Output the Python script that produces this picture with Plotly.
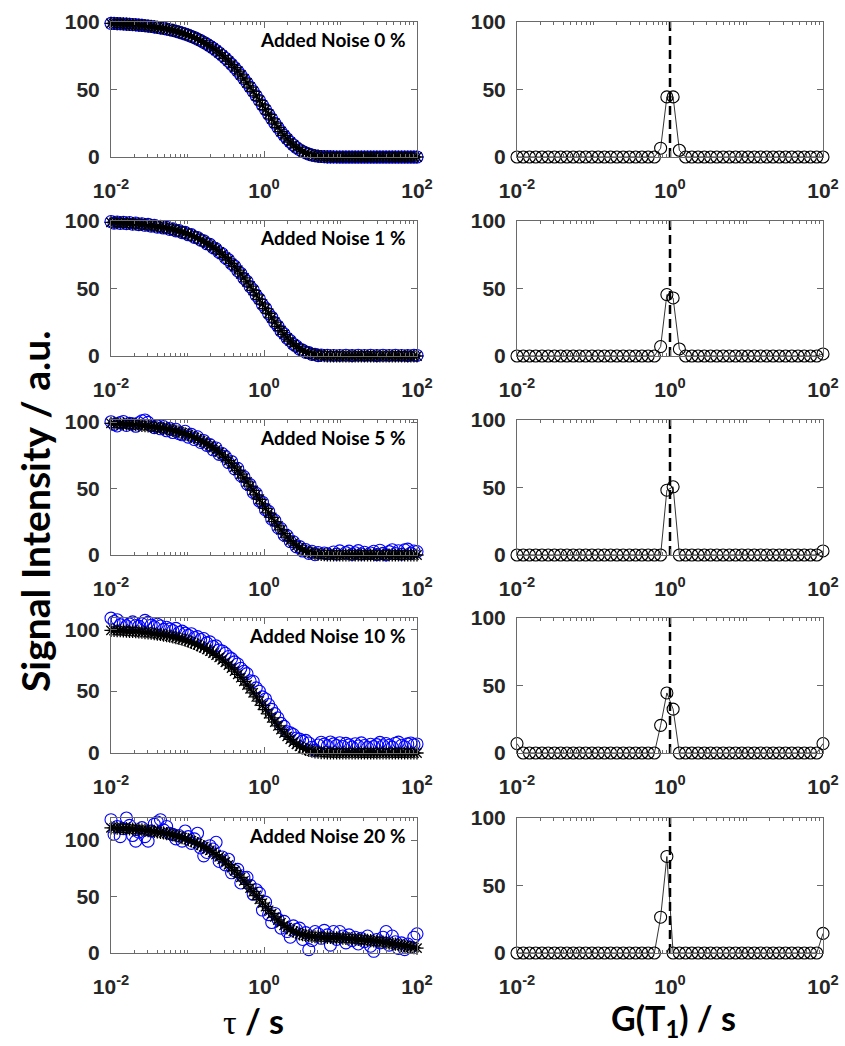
import plotly.graph_objects as go

# ---- relaxation time grid (s) for the decay curves ----
tau = [0.01, 0.010975, 0.012045, 0.013219, 0.014508, 0.015923, 0.017475, 0.019179, 0.021049, 0.023101,
       0.025354, 0.027826, 0.030539, 0.033516, 0.036784, 0.04037, 0.044306, 0.048626, 0.053367, 0.05857,
       0.064281, 0.070548, 0.077426, 0.084975, 0.09326, 0.10235, 0.11233, 0.12328, 0.1353, 0.1485,
       0.16298, 0.17886, 0.1963, 0.21544, 0.23645, 0.2595, 0.2848, 0.31257, 0.34305, 0.37649,
       0.4132, 0.45349, 0.4977, 0.54623, 0.59948, 0.65793, 0.72208, 0.79248, 0.86975, 0.95455,
       1.0476, 1.1498, 1.2619, 1.3849, 1.5199, 1.6681, 1.8307, 2.0092, 2.2051, 2.4201,
       2.6561, 2.9151, 3.1993, 3.5112, 3.8535, 4.2292, 4.6416, 5.0941, 5.5908, 6.1359,
       6.7342, 7.3907, 8.1113, 8.9022, 9.7701, 10.723, 11.768, 12.915, 14.175, 15.557,
       17.074, 18.738, 20.565, 22.57, 24.771, 27.186, 29.836, 32.745, 35.938, 39.442,
       43.288, 47.508, 52.14, 57.224, 62.803, 68.926, 75.646, 83.022, 91.116, 100.0]

# noise-free decay (also used as the fitted curve for the low-noise rows)
clean = [99.0, 98.91, 98.8, 98.69, 98.56, 98.42, 98.27, 98.1, 97.92, 97.72,
         97.5, 97.26, 96.99, 96.7, 96.39, 96.04, 95.67, 95.25, 94.8, 94.31,
         93.77, 93.19, 92.55, 91.85, 91.1, 90.27, 89.37, 88.4, 87.35, 86.2,
         84.96, 83.62, 82.18, 80.62, 78.94, 77.14, 75.22, 73.16, 70.96, 68.63,
         66.15, 63.54, 60.79, 57.91, 54.91, 51.79, 48.57, 45.27, 41.91, 38.5,
         35.08, 31.67, 28.31, 25.03, 21.87, 18.86, 16.03, 13.41, 11.02, 8.89,
         7.02, 5.42, 4.08, 2.99, 2.12, 1.46, 0.96, 0.61, 0.37, 0.22,
         0.12, 0.06, 0.03, 0.01, 0.0, 0.0, 0.0, 0.0, 0.0, 0.0,
         0.0, 0.0, 0.0, 0.0, 0.0, 0.0, 0.0, 0.0, 0.0, 0.0,
         0.0, 0.0, 0.0, 0.0, 0.0, 0.0, 0.0, 0.0, 0.0, 0.0]

data_1 = [99.6, 98.4, 99.3, 98.2, 99.1, 98.0, 98.9, 97.6, 98.5, 97.3,
          98.0, 96.8, 97.5, 96.2, 96.9, 95.5, 96.1, 94.8, 95.3, 93.8,
          94.2, 92.7, 93.0, 91.4, 91.6, 89.8, 89.9, 87.9, 87.8, 85.8,
          85.4, 83.1, 82.7, 80.2, 79.4, 76.7, 75.7, 72.7, 71.4, 68.2,
          66.6, 63.1, 61.2, 57.5, 55.3, 51.4, 49.0, 44.9, 42.3, 38.1,
          35.5, 31.3, 28.7, 24.7, 22.2, 18.5, 16.4, 13.1, 11.4, 8.6,
          7.4, 5.1, 4.4, 2.7, 2.5, 1.2, 1.3, 0.3, 0.7, -0.1,
          0.5, -0.3, 0.4, -0.4, 0.4, -0.3, 0.5, -0.4, 0.3, -0.2,
          0.5, -0.4, 0.4, -0.3, 0.5, -0.4, 0.3, -0.4, 0.5, -0.3,
          0.4, -0.4, 0.5, -0.3, 0.4, -0.4, 0.3, -0.3, 0.5, 0.4]

data_5 = [100.2, 98.1, 97.0, 99.6, 100.4, 97.4, 99.0, 98.6, 96.8, 99.4,
          100.9, 101.5, 99.7, 97.2, 95.8, 97.1, 94.9, 96.6, 93.4, 95.2,
          92.1, 94.5, 91.2, 90.4, 93.0, 88.6, 90.7, 86.8, 88.9, 84.6,
          86.1, 82.4, 83.0, 79.1, 80.5, 75.6, 76.3, 74.2, 69.5, 70.3,
          64.8, 65.1, 59.6, 59.0, 53.5, 52.9, 47.1, 46.4, 40.6, 39.7,
          33.9, 32.8, 27.0, 26.1, 20.6, 19.9, 15.0, 14.6, 10.1, 10.0,
          6.1, 6.4, 3.0, 4.1, 1.2, 2.8, 0.2, 1.9, -0.6, 1.5,
          0.9, -0.5, 2.3, 0.6, 3.1, -0.2, 1.8, 2.9, 0.4, 1.7,
          3.3, 0.7, 2.1, -0.4, 1.5, 2.8, 0.3, 3.6, 1.2, 0.1,
          2.5, 4.0, 1.1, 3.2, 0.6, 3.9, 4.4, 1.4, 3.0, 2.6]

data_10 = [108.9, 106.2, 107.6, 103.5, 104.8, 102.7, 104.1, 105.9, 103.0, 102.4,
           104.3, 107.1, 105.6, 103.2, 101.9, 104.0, 102.6, 99.8, 101.5, 100.2,
           98.9, 100.6, 97.3, 98.4, 96.8, 95.1, 96.3, 93.2, 94.0, 91.6,
           92.4, 88.9, 89.7, 86.0, 86.5, 83.2, 82.4, 80.5, 77.9, 76.2,
           73.6, 71.9, 68.4, 66.0, 64.1, 58.3, 57.8, 52.6, 49.9, 45.3,
           43.6, 39.1, 35.2, 31.8, 28.4, 23.9, 21.5, 17.2, 16.4, 14.9,
           12.1, 11.3, 9.6, 10.2, 8.1, 4.6, 2.3, 6.5, 8.7, 7.2,
           5.8, 8.9, 7.4, 6.1, 8.3, 5.2, 7.8, 6.6, 4.9, 7.5,
           5.6, 8.2, 6.0, 4.4, 7.1, 5.3, 6.8, 8.6, 5.9, 7.7,
           6.3, 4.8, 7.9, 8.8, 6.2, 5.0, 7.4, 8.1, 6.7, 7.3]

data_20 = [118.0, 105.0, 112.0, 103.0, 110.0, 119.5, 113.0, 104.0, 99.0, 107.0,
           111.0, 103.0, 99.0, 108.0, 114.0, 116.0, 118.0, 109.0, 112.0, 106.0,
           105.0, 101.0, 104.0, 99.0, 108.0, 103.0, 97.0, 101.0, 106.0, 93.0,
           86.0, 89.0, 95.0, 92.0, 98.0, 81.0, 85.0, 78.0, 83.0, 71.0,
           73.0, 74.0, 62.0, 67.0, 67.0, 60.0, 52.0, 56.0, 53.0, 38.0,
           45.0, 34.0, 27.0, 35.0, 30.0, 22.0, 28.0, 19.0, 14.0, 24.0,
           21.0, 22.0, 12.0, 18.0, 3.0, 11.0, 19.0, 17.0, 13.0, 20.0,
           16.0, 7.0, 19.0, 12.0, 19.0, 15.0, 9.0, 16.0, 11.0, 14.0,
           8.0, 13.0, 10.0, 15.0, 6.0, 1.5, 12.0, 9.0, 14.0, 19.0,
           7.0, 15.0, 10.0, 4.0, 9.0, 3.0, 8.0, 5.0, 14.0, 17.0]

fit_20 = [110.8, 110.7, 110.5, 110.4, 110.2, 110.1, 109.9, 109.7, 109.5, 109.2,
          109.0, 108.7, 108.4, 108.0, 107.6, 107.2, 106.8, 106.3, 105.7, 105.1,
          104.5, 103.8, 103.0, 102.2, 101.3, 100.3, 99.3, 98.1, 96.9, 95.5,
          94.1, 92.5, 90.9, 89.1, 87.1, 85.1, 82.9, 80.6, 78.1, 75.5,
          72.8, 69.9, 67.0, 63.9, 60.7, 57.5, 54.2, 50.9, 47.5, 44.2,
          41.0, 37.8, 34.8, 31.9, 29.2, 26.7, 24.5, 22.5, 20.8, 19.3,
          18.0, 17.0, 16.2, 15.6, 15.1, 14.7, 14.4, 14.2, 14.1, 13.9,
          13.8, 13.7, 13.6, 13.4, 13.3, 13.1, 13.0, 12.8, 12.6, 12.4,
          12.1, 11.9, 11.6, 11.3, 11.0, 10.7, 10.3, 10.0, 9.6, 9.2,
          8.7, 8.3, 7.8, 7.3, 6.8, 6.3, 5.8, 5.3, 4.8, 4.3]

# ---- T1 grid (s) for the recovered distributions ----
t1 = [0.01, 0.012068, 0.014564, 0.017575, 0.02121, 0.025595, 0.030888, 0.037276, 0.044984, 0.054287,
      0.065513, 0.07906, 0.09541, 0.11514, 0.13895, 0.16768, 0.20236, 0.24421, 0.29471, 0.35565,
      0.42919, 0.51795, 0.62506, 0.75431, 0.9103, 1.0985, 1.3257, 1.5999, 1.9307, 2.33,
      2.8118, 3.3932, 4.0949, 4.9417, 5.9636, 7.1969, 8.6851, 10.481, 12.649, 15.264,
      18.421, 22.23, 26.827, 32.375, 39.069, 47.149, 56.899, 68.665, 82.864, 100.0]

g_0 = [0, 0, 0, 0, 0, 0, 0, 0, 0, 0, 0, 0, 0, 0, 0, 0, 0, 0, 0, 0, 0, 0, 0, 6.5, 44.5,
       44.5, 5.0, 0, 0, 0, 0, 0, 0, 0, 0, 0, 0, 0, 0, 0, 0, 0, 0, 0, 0, 0, 0, 0, 0, 0]
g_1 = [0, 0, 0, 0, 0, 0, 0, 0, 0, 0, 0, 0, 0, 0, 0, 0, 0, 0, 0, 0, 0, 0, 0, 7.0, 45.5,
       43.0, 5.2, 0, 0, 0, 0, 0, 0, 0, 0, 0, 0, 0, 0, 0, 0, 0, 0, 0, 0, 0, 0, 0, 0, 1.5]
g_5 = [0, 0, 0, 0, 0, 0, 0, 0, 0, 0, 0, 0, 0, 0, 0, 0, 0, 0, 0, 0, 0, 0, 0, 0, 48.0,
       50.5, 0, 0, 0, 0, 0, 0, 0, 0, 0, 0, 0, 0, 0, 0, 0, 0, 0, 0, 0, 0, 0, 0, 0, 3.0]
g_10 = [7.0, 0, 0, 0, 0, 0, 0, 0, 0, 0, 0, 0, 0, 0, 0, 0, 0, 0, 0, 0, 0, 0, 0, 20.5, 44.5,
        32.5, 0, 0, 0, 0, 0, 0, 0, 0, 0, 0, 0, 0, 0, 0, 0, 0, 0, 0, 0, 0, 0, 0, 0, 7.0]
g_20 = [0, 0, 0, 0, 0, 0, 0, 0, 0, 0, 0, 0, 0, 0, 0, 0, 0, 0, 0, 0, 0, 0, 0, 26.5, 71.5,
        0, 0, 0, 0, 0, 0, 0, 0, 0, 0, 0, 0, 0, 0, 0, 0, 0, 0, 0, 0, 0, 0, 0, 0, 14.5]

noise_levels = ["0", "1", "5", "10", "20"]
signals = [clean, data_1, data_5, data_10, data_20]
fits = [clean, clean, clean, clean, fit_20]
distributions = [g_0, g_1, g_5, g_10, g_20]
signal_ymax = [100, 100, 101.5, 109, 119.5]

x_tickvals = [0.01, 1, 100]
x_ticktext = ["10<sup>-2</sup>", "10<sup>0</sup>", "10<sup>2</sup>"]
y_tickvals = [0, 50, 100]

# ---- layout geometry (pixels) ----
W, H = 845, 1046
LEFT_X = (111, 417)
RIGHT_X = (517, 823)
ROW_TOPS = [22, 221, 420, 618, 818]
ROW_H = 135

AX_COLOR = "#6a6a6a"
TXT_COLOR = "#262626"
tick_font = dict(family="Liberation Sans, Arial, sans-serif", size=21, color=TXT_COLOR, weight="bold")
minor_vals = [m * d for d in (0.01, 0.1, 1, 10) for m in range(2, 10)] + [0.1, 10]

fig = go.Figure()


def xdom(px):
    return [px[0] / W, px[1] / W]


def ydom(top):
    return [1 - (top + ROW_H) / H, 1 - top / H]


def x_axis(domain, anchor):
    return dict(type="log", range=[-2, 2], domain=domain, anchor=anchor, automargin=False,
                tickmode="array", tickvals=x_tickvals, ticktext=x_ticktext,
                ticks="inside", ticklen=6, tickwidth=1, tickcolor=AX_COLOR,
                showline=True, linecolor=AX_COLOR, linewidth=1, mirror="allticks",
                showgrid=False, zeroline=False, tickfont=tick_font, ticklabelstandoff=15,
                minor=dict(tickmode="array", tickvals=minor_vals, ticks="inside",
                           ticklen=3, tickwidth=1, tickcolor=AX_COLOR, showgrid=False))


def y_axis(domain, anchor, ymax):
    return dict(range=[0, ymax], domain=domain, anchor=anchor, automargin=False,
                tickmode="array", tickvals=y_tickvals,
                ticks="inside", ticklen=6, tickwidth=1, tickcolor=AX_COLOR,
                showline=True, linecolor=AX_COLOR, linewidth=1, mirror="allticks",
                showgrid=False, zeroline=False, tickfont=tick_font, ticklabelstandoff=6)


layout_axes = {}
annotations = []
for i in range(5):
    nl, nr = 2 * i + 1, 2 * i + 2
    xl, yl = f"x{nl}", f"y{nl}"
    xr, yr = f"x{nr}", f"y{nr}"
    top = ROW_TOPS[i]

    layout_axes[f"xaxis{nl}"] = x_axis(xdom(LEFT_X), yl)
    layout_axes[f"yaxis{nl}"] = y_axis(ydom(top), xl, signal_ymax[i])
    layout_axes[f"xaxis{nr}"] = x_axis(xdom(RIGHT_X), yr)
    layout_axes[f"yaxis{nr}"] = y_axis(ydom(top), xr, 100)

    # measured signal (blue open circles)
    fig.add_trace(go.Scatter(
        x=tau, y=signals[i], mode="markers", xaxis=xl, yaxis=yl, cliponaxis=False,
        marker=dict(symbol="circle-open", size=12, color="#0000ff", line=dict(width=1.1)),
        showlegend=False))
    # fitted signal (black asterisks joined by a line)
    fig.add_trace(go.Scatter(
        x=tau, y=fits[i], mode="lines+markers", xaxis=xl, yaxis=yl, cliponaxis=False,
        line=dict(color="black", width=1),
        marker=dict(symbol="asterisk-open", size=11, color="black", line=dict(width=1.3)),
        showlegend=False))

    # recovered T1 distribution
    fig.add_trace(go.Scatter(
        x=t1, y=distributions[i], mode="lines+markers", xaxis=xr, yaxis=yr, cliponaxis=False,
        line=dict(color="black", width=0.8),
        marker=dict(symbol="circle-open", size=12, color="black", line=dict(width=1.1)),
        showlegend=False))
    # true T1 reference (dashed line at 1 s)
    fig.add_trace(go.Scatter(
        x=[1, 1], y=[0, 100], mode="lines", xaxis=xr, yaxis=yr,
        line=dict(color="black", width=2.5, dash="9px,5px"), showlegend=False))

    annotations.append(dict(
        text=f"Added Noise {noise_levels[i]} %", xref="paper", yref="paper",
        x=408 / W, y=1 - (top + 17) / H, xanchor="right", yanchor="middle",
        showarrow=False, font=dict(family="Lato, sans-serif", size=19, color="black", weight="bold")))

title_font = dict(family="Lato, sans-serif", size=39, color="black", weight="bold")
axis_title_font = dict(family="Lato, sans-serif", size=34, color="black", weight="bold")
annotations += [
    dict(text="Signal Intensity / a.u.", xref="paper", yref="paper",
         x=35 / W, y=1 - 511 / H, xanchor="center", yanchor="middle",
         textangle=-90, showarrow=False, font=title_font),
    dict(text="<span style='font-family:Liberation Serif;font-weight:normal'>τ</span> / s",
         xref="paper", yref="paper", x=253 / W, y=1 - 1043 / H,
         xanchor="center", yanchor="bottom", showarrow=False, font=axis_title_font),
    dict(text="G(T<sub>1</sub>) / s", xref="paper", yref="paper",
         x=673 / W, y=1 - 1045 / H, xanchor="center", yanchor="bottom",
         showarrow=False, font=axis_title_font),
]

fig.update_layout(
    width=W, height=H, margin=dict(l=0, r=0, t=0, b=0),
    paper_bgcolor="white", plot_bgcolor="white",
    annotations=annotations, **layout_axes)

fig.write_html("out.html")
